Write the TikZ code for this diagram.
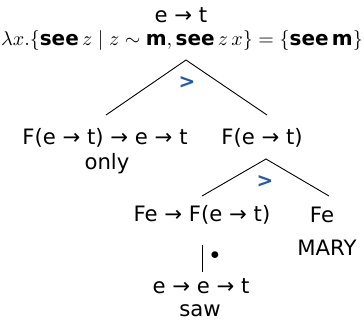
\documentclass[tikz,border=0pt]{standalone}
\usepackage{amsmath}
\usepackage{amssymb}
\usepackage{fontspec}
\setmainfont{DejaVu Sans}
\usepackage{tikz}
\usetikzlibrary{positioning}
\definecolor{opblue}{RGB}{32,90,170}

\begin{document}
\begin{tikzpicture}[
  x=0.5pt, y=-0.5pt,
  every node/.style = {font=\fontsize{10.6}{12}\selectfont, inner sep=0pt},
  typ/.style    = {anchor=center},
  word/.style   = {anchor=center},
  sem/.style    = {anchor=center, font=\fontsize{10}{12}\selectfont},
  branch/.style = {black, line width=0.45pt},
  combo/.style  = {text=opblue, font=\fontsize{10}{12}\selectfont\bfseries},
]
\useasboundingbox (0,0) rectangle (364,333);

%% ── Root ─────────────────────────────────────────────────────────────────
\node[typ] (root) at (181,15) {e → t};
\node[sem] (rootsem) at (182,40)
  {$\lambda x.\{\textbf{see}\,z \mid z \sim \textbf{m}, \textbf{see}\,z\,x\} = \{\textbf{see}\,\textbf{m}\}$};

%% ── Level 1 ──────────────────────────────────────────────────────────────
\node[typ]  (only)  at (105,138) {F(e → t) → e → t};
\node[word] (onlyw) at (107,164) {only};
\node[typ]  (vp)    at (262,138) {F(e → t)};

%% ── Level 2 ──────────────────────────────────────────────────────────────
\node[typ]  (lift)  at (202,215) {Fe → F(e → t)};
\node[typ]  (mary)  at (322,215) {Fe};
\node[word] (maryw) at (327,248) {MARY};

%% ── Level 3 ──────────────────────────────────────────────────────────────
\node[typ]  (saw)   at (201,286) {e → e → t};
\node[word] (saww)  at (200,311) {saw};

%% ── Branch points ────────────────────────────────────────────────────────
\coordinate (top)    at (186,60);
\coordinate (top-l)  at (106,115);
\coordinate (top-r)  at (267,115);
\coordinate (mid)    at (266,159);
\coordinate (mid-l)  at (202,196);
\coordinate (mid-r)  at (329,196);
\coordinate (low)    at (202,245);
\coordinate (low-d)  at (202,272);

%% ── Branches ─────────────────────────────────────────────────────────────
\draw[branch] (top-l) -- (top) -- (top-r);
\node[combo] (app1) at (187,83) {>};

\draw[branch] (mid-l) -- (mid) -- (mid-r);
\node[combo] (app2) at (265,182) {>};

\draw[branch] (low) -- (low-d);
\node (dot) at (215,256) {\scalebox{0.8}{$\bullet$}};

\end{tikzpicture}
\end{document}
